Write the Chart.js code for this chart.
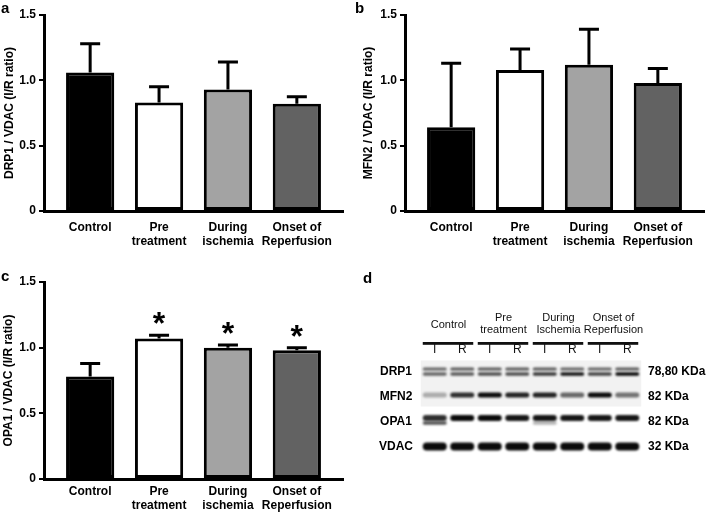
<!DOCTYPE html>
<html>
<head>
<meta charset="utf-8">
<script src="https://cdn.jsdelivr.net/npm/chart.js@4.4.1/dist/chart.umd.min.js"></script>
<style>
  body { margin: 0; background: #fff; }
  #fig { position: relative; width: 708px; height: 516px; overflow: hidden; font-family: "Liberation Sans", Arial, sans-serif; }
  #fig canvas { position: absolute; }
  .tag { position: absolute; font-weight: bold; font-size: 15px; line-height: 15px; }
</style>
</head>
<body>
<div id="fig">
  <canvas id="chartA" width="354" height="258" style="left:0;top:0"></canvas>
  <canvas id="chartB" width="354" height="258" style="left:354px;top:0"></canvas>
  <canvas id="chartC" width="354" height="258" style="left:0;top:258px"></canvas>
  <canvas id="chartD" width="354" height="258" style="left:354px;top:258px"></canvas>
  <div class="tag" style="left:1px;top:0px">a</div>
  <div class="tag" style="left:355px;top:0px">b</div>
  <div class="tag" style="left:1px;top:268px">c</div>
  <div class="tag" style="left:363px;top:270px">d</div>
</div>
<script>
// groups shown on the x axis of the bar charts
const categories = [['Control'], ['Pre', 'treatment'], ['During', 'ischemia'], ['Onset of', 'Reperfusion']];
const barColors = ['#000000', '#ffffff', '#a3a3a3', '#626262'];

// panel a - DRP1 / VDAC
const drp1Mean = [1.06, 0.83, 0.93, 0.82];
const drp1Sem = [0.22, 0.12, 0.21, 0.055];

// panel b - MFN2 / VDAC
const mfn2Mean = [0.64, 1.08, 1.12, 0.98];
const mfn2Sem = [0.49, 0.16, 0.27, 0.11];

// panel c - OPA1 / VDAC
const opa1Mean = [0.78, 1.07, 1.00, 0.98];
const opa1Sem = [0.10, 0.025, 0.02, 0.02];
const opa1Stars = ['', '*', '*', '*'];

const yTicks = [0, 0.5, 1.0, 1.5];

// panel d - western blot (band darkness per lane, 0..1)
const laneLabels = ['I', 'R', 'I', 'R', 'I', 'R', 'I', 'R'];
const laneGroups = [['Control'], ['Pre', 'treatment'], ['During', 'Ischemia'], ['Onset of', 'Reperfusion']];
const proteins = ['DRP1', 'MFN2', 'OPA1', 'VDAC'];
const kdaLabels = ['78,80 KDa', '82 KDa', '82 KDa', '32 KDa'];
const drp1Upper = [0.6, 0.65, 0.65, 0.65, 0.65, 0.6, 0.6, 0.65];
const drp1Lower = [0.6, 0.65, 0.7, 0.7, 0.8, 0.95, 0.75, 1];
const mfn2Band = [0.3, 0.85, 1, 0.9, 0.9, 0.6, 1, 0.55];
const opa1Upper = [0.85, 1, 1, 0.95, 0.95, 0.95, 0.95, 0.95];
const opa1Lower = [0.7, 0, 0, 0, 0.3, 0, 0, 0];
const vdacBand = [1, 1, 1, 1, 1, 1, 1, 1];

Chart.defaults.font.family = '"Liberation Sans", Arial, sans-serif';
Chart.defaults.color = '#000';

// draws the SEM whiskers (upwards only) and the significance stars
const errorBarPlugin = {
    id: 'errorBars',
    afterDatasetsDraw(chart) {
        const ctx = chart.ctx;
        const ds = chart.data.datasets[0];
        const meta = chart.getDatasetMeta(0);
        const yScale = chart.scales.y;
        ctx.save();
        ctx.strokeStyle = '#000';
        ctx.lineWidth = 3;
        meta.data.forEach((bar, i) => {
            const top = yScale.getPixelForValue(ds.data[i].y);
            const end = yScale.getPixelForValue(ds.data[i].y + ds.errors[i]);
            ctx.beginPath();
            ctx.moveTo(bar.x, top);
            ctx.lineTo(bar.x, end);
            ctx.moveTo(bar.x - 10, end);
            ctx.lineTo(bar.x + 10, end);
            ctx.stroke();
            if (ds.stars && ds.stars[i]) {
                ctx.font = 'bold 32px "Liberation Sans", Arial, sans-serif';
                ctx.textAlign = 'center';
                ctx.textBaseline = 'alphabetic';
                ctx.fillStyle = '#000';
                ctx.fillText(ds.stars[i], bar.x, end - 1);
            }
        });
        ctx.restore();
    }
};

function createBarChart(canvasId, yTitle, means, errors, stars, lay) {
    const canvas = document.getElementById(canvasId);
    if (!canvas) return;

    new Chart(canvas, {
        type: 'bar',
        data: {
            datasets: [{
                data: means.map((v, i) => ({ x: i, y: v })),
                errors: errors,
                stars: stars,
                backgroundColor: barColors,
                borderColor: '#000',
                borderWidth: 3,
                borderSkipped: false,
                barPercentage: 0.7,
                categoryPercentage: 1
            }]
        },
        options: {
            responsive: false,
            animation: false,
            devicePixelRatio: 1,
            events: [],
            layout: { padding: { left: 0, top: lay.top, right: lay.right, bottom: 0 } },
            plugins: { legend: { display: false }, tooltip: { enabled: false } },
            scales: {
                x: {
                    type: 'linear',
                    offset: false,
                    min: -0.67,
                    max: 3.67,
                    grid: { display: false, drawTicks: false },
                    border: { display: true, width: 3, color: '#000' },
                    afterBuildTicks: axis => { axis.ticks = categories.map((c, i) => ({ value: i })); },
                    afterFit: axis => { axis.height = lay.xHeight; },
                    ticks: {
                        callback: v => categories[v],
                        font: { size: 12, weight: 'bold' },
                        padding: lay.xPad,
                        maxRotation: 0,
                        autoSkip: false
                    }
                },
                y: {
                    min: 0,
                    max: 1.5,
                    afterBuildTicks: axis => { axis.ticks = yTicks.map(v => ({ value: v })); },
                    afterFit: axis => { axis.width = lay.yWidth; },
                    ticks: {
                        callback: v => v === 0 ? '0' : v.toFixed(1),
                        font: { size: 12, weight: 'bold' },
                        padding: 3
                    },
                    grid: { display: true, drawOnChartArea: false, drawTicks: true, tickLength: 5, lineWidth: 2, color: '#000' },
                    border: { display: true, width: 3, color: '#000' },
                    title: {
                        display: true,
                        text: yTitle,
                        font: { size: 12, weight: 'bold' },
                        padding: { top: lay.titlePad, bottom: 0 }
                    }
                }
            }
        },
        plugins: [errorBarPlugin]
    });
}

createBarChart('chartA', 'DRP1 / VDAC (I/R ratio)', drp1Mean, drp1Sem, null,
    { top: 15, right: 11, xHeight: 47, xPad: 9, yWidth: 44, titlePad: 2 });
createBarChart('chartB', 'MFN2 / VDAC (I/R ratio)', mfn2Mean, mfn2Sem, null,
    { top: 15, right: 4, xHeight: 47, xPad: 9, yWidth: 51, titlePad: 7 });
createBarChart('chartC', 'OPA1 / VDAC (I/R ratio)', opa1Mean, opa1Sem, opa1Stars,
    { top: 24, right: 11, xHeight: 37, xPad: 5, yWidth: 44, titlePad: 1 });

// western blot: group headers, lane underlines and the bands
const blotPlugin = {
    id: 'blot',
    afterDraw(chart) {
        const { ctx, scales: { x, y } } = chart;
        ctx.save();

        // light membrane background behind the upper two strips
        const left = x.getPixelForValue(0) - 14;
        const right = x.getPixelForValue(7) + 14;
        ctx.fillStyle = '#f2f2f2';
        ctx.fillRect(left, y.getPixelForValue(0) - 11, right - left, y.getPixelForValue(1) + 10 - (y.getPixelForValue(0) - 11));

        // group headers and underlines
        ctx.fillStyle = '#111';
        ctx.font = '11px "Liberation Sans", Arial, sans-serif';
        ctx.textAlign = 'center';
        ctx.textBaseline = 'middle';
        laneGroups.forEach((lines, g) => {
            const x0 = x.getPixelForValue(2 * g);
            const x1 = x.getPixelForValue(2 * g + 1);
            const cx = (x0 + x1) / 2;
            if (lines.length === 1) {
                ctx.fillText(lines[0], cx, 67);
            } else {
                ctx.fillText(lines[0], cx, 60);
                ctx.fillText(lines[1], cx, 72);
            }
            ctx.fillRect(x0 - 12, 84, (x1 + 11) - (x0 - 12), 2.8);
        });

        // bands
        const bands = [
            { row: 0, dy: -2.5, h: 3, values: drp1Upper },
            { row: 0, dy: 2.5, h: 3.6, values: drp1Lower },
            { row: 1, dy: -1.5, h: 5, values: mfn2Band },
            { row: 2, dy: -3.5, h: 6, values: opa1Upper },
            { row: 2, dy: 1.5, h: 3.5, values: opa1Lower },
            { row: 3, dy: 0, h: 8, values: vdacBand }
        ];
        ctx.filter = 'blur(0.8px)';
        bands.forEach(b => {
            const cy = y.getPixelForValue(b.row) + b.dy;
            b.values.forEach((v, i) => {
                if (!v) return;
                const cx = x.getPixelForValue(i);
                ctx.fillStyle = 'rgba(10,10,10,' + v + ')';
                ctx.beginPath();
                ctx.roundRect(cx - 12, cy - b.h / 2, 24, b.h, b.h / 2);
                ctx.fill();
            });
        });
        ctx.restore();
    }
};

new Chart(document.getElementById('chartD'), {
    type: 'bar',
    data: { labels: laneLabels, datasets: [] },
    options: {
        responsive: false,
        animation: false,
        devicePixelRatio: 1,
        events: [],
        layout: { padding: { left: 16, top: 0, right: 0, bottom: 57 } },
        plugins: { legend: { display: false }, tooltip: { enabled: false } },
        scales: {
            x: {
                type: 'category',
                position: 'top',
                offset: true,
                grid: { display: false, drawTicks: false },
                border: { display: false },
                afterFit: axis => { axis.height = 101; },
                ticks: { font: { size: 12 }, color: '#111', padding: 2, maxRotation: 0, autoSkip: false }
            },
            y: {
                type: 'category',
                labels: proteins,
                position: 'left',
                offset: true,
                grid: { display: false, drawTicks: false },
                border: { display: false },
                afterFit: axis => { axis.width = 51; },
                ticks: { font: { size: 12, weight: 'bold' }, crossAlign: 'center', padding: 8 }
            },
            y2: {
                type: 'category',
                labels: kdaLabels,
                position: 'right',
                offset: true,
                grid: { display: false, drawTicks: false },
                border: { display: false },
                afterFit: axis => { axis.width = 67; },
                ticks: { font: { size: 12, weight: 'bold' }, crossAlign: 'near', padding: 7 }
            }
        }
    },
    plugins: [blotPlugin]
});
</script>
</body>
</html>
